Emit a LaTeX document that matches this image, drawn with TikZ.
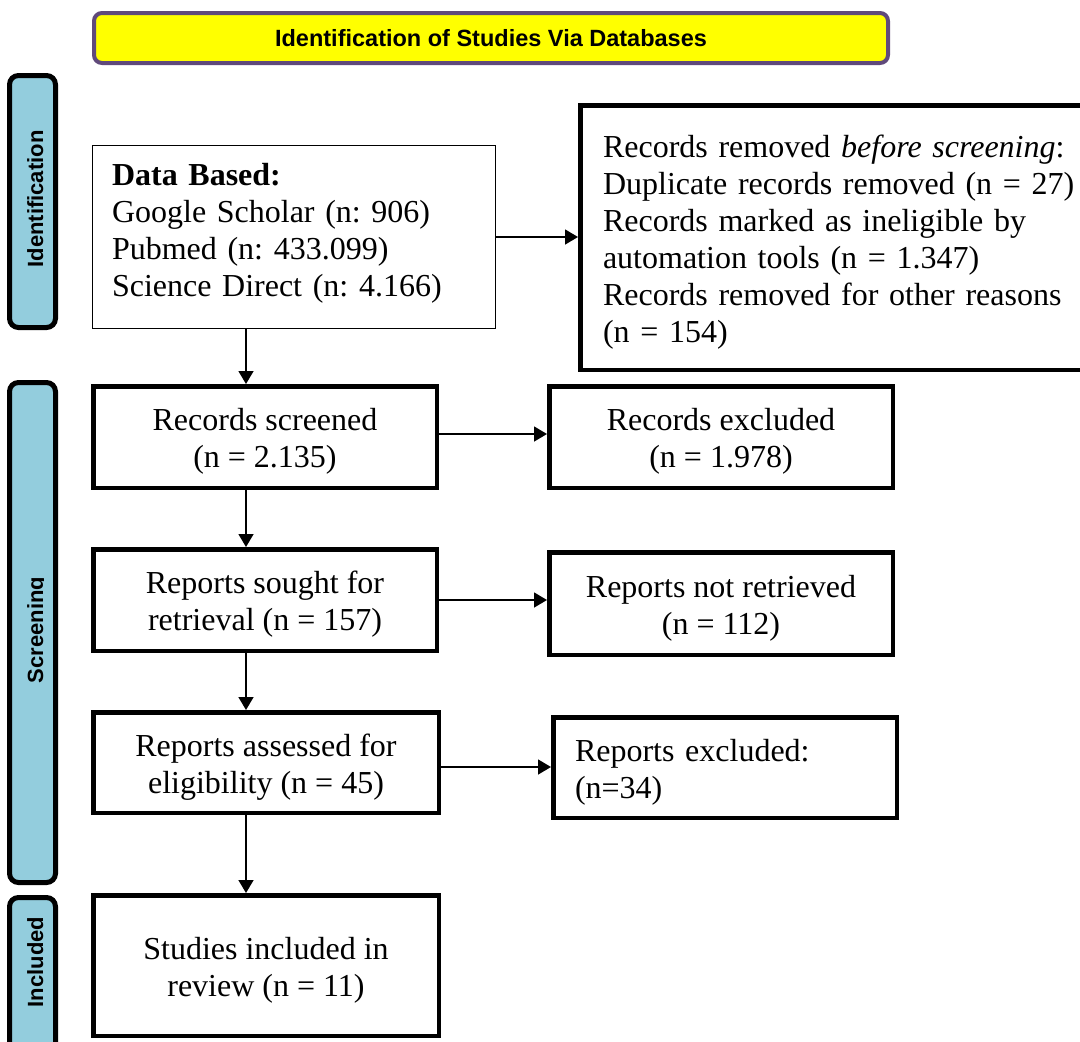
\documentclass[tikz,border=0pt]{standalone}
\usepackage{fontspec}
\setmainfont{Liberation Serif}
\setsansfont{Liberation Sans}
\usetikzlibrary{arrows.meta}
\definecolor{bannerpurple}{HTML}{604A7B}
\definecolor{sideblue}{HTML}{93CDDD}
\definecolor{bannerfill}{HTML}{FFFF00}
\newcommand\topstrut{\rule{0pt}{31pt}}
\frenchspacing
\begin{document}
\begin{tikzpicture}[x=1pt,y=-1pt,
  flowbox/.style={draw, line width=4.5pt, align=center, inner xsep=6pt, inner ysep=0pt,
                  font=\fontsize{32}{37}\selectfont\frenchspacing},
  thinbox/.style={draw, line width=1pt, align=left, inner ysep=0pt,
                  font=\fontsize{32}{37}\selectfont\frenchspacing},
  arr/.style={line width=1.5pt, -{Triangle[length=13pt,width=15pt]}},
  sidebox/.style={draw, line width=5pt, fill=sideblue, rounded corners=9pt},
  sidelabel/.style={rotate=90, anchor=base, inner sep=0pt,
                    font=\sffamily\bfseries\fontsize{22}{26}\selectfont},
  banner/.style={draw=bannerpurple, line width=4pt, fill=bannerfill, rounded corners=8pt,
                 font=\sffamily\bfseries\fontsize{23.5}{28}\selectfont}
]
\useasboundingbox (0,0) rectangle (1080,1042);
\clip (0,0) rectangle (1080,1042);

% banner
\node[banner, minimum width=794pt, minimum height=50pt] (banner) at (491,38)
  {\raisebox{-2pt}{Identification of Studies Via Databases}};

% side phase boxes
\node[sidebox, minimum width=46pt, minimum height=252pt] (sideid) at (32.5,201.5) {};
\node[sidebox, minimum width=46pt, minimum height=500pt] (sidescr) at (32.5,632.5) {};
\node[sidebox, minimum width=46pt, minimum height=170pt] (sideinc) at (32.5,982.5) {};
\begin{scope}
  \clip (0,0) rectangle (43.5,1042);
  \node[sidelabel] (labid) at (43,199) {Identification};
  \node[sidelabel] (labscr) at (43,630) {Screening};
  \node[sidelabel] (labinc) at (43,962) {Included};
\end{scope}

% identification
\node[thinbox, text width=364pt, inner xsep=19.5pt, minimum height=183pt] (data) at (294,237)
  {\textbf{Data Based:}\\Google Scholar (n: 906)\\Pubmed (n: 433.099)\\Science Direct (n: 4.166)\rule[-15pt]{0pt}{1pt}};
\node[flowbox, anchor=west, align=left, text width=490pt, inner xsep=22.75pt, minimum height=264.5pt] (removed) at (578,237.5)
  {\topstrut Records removed \textit{before screening}:\\Duplicate records removed (n = 27)\\Records marked as ineligible by\\automation tools (n = 1.347)\\Records removed for other reasons\\(n = 154)};

% screening
\node[flowbox, minimum width=343.5pt, minimum height=101.5pt] (screened) at (265,437)
  {\topstrut Records screened\\(n = 2.135)};
\node[flowbox, minimum width=343.5pt, minimum height=101.5pt] (excluded) at (721,437)
  {\topstrut Records excluded\\(n = 1.978)};
\node[flowbox, minimum width=343.5pt, minimum height=101.5pt] (sought) at (265,600)
  {\topstrut Reports sought for\\retrieval (n = 157)};
\node[flowbox, minimum width=343.5pt, minimum height=102.5pt] (notret) at (721,603.5)
  {\topstrut Reports not retrieved\\(n = 112)};
\node[flowbox, minimum width=345.5pt, minimum height=100.5pt] (assessed) at (266,762.5)
  {\topstrut Reports assessed for\\eligibility (n = 45)};
\node[flowbox, align=left, text width=300pt, inner xsep=21.75pt, minimum height=100.5pt] (repexcl) at (725,767.5)
  {\topstrut Reports excluded:\\(n=34)};

% included
\node[flowbox, minimum width=345.5pt, minimum height=140.5pt] (studies) at (266,965.5)
  {\topstrut Studies included in\\review (n = 11)};

% connectors
\coordinate (ax) at (246,0);
\draw[arr] (data.east) -- (data.east -| removed.west);
\draw[arr] (data.south -| ax) -- (screened.north -| ax);
\draw[arr] (screened.south -| ax) -- (sought.north -| ax);
\draw[arr] (sought.south -| ax) -- (assessed.north -| ax);
\draw[arr] (assessed.south -| ax) -- (studies.north -| ax);
\draw[arr] ([yshift=3pt]screened.east) -- ([yshift=3pt]screened.east -| excluded.west);
\draw[arr] (sought.east) -- (sought.east -| notret.west);
\draw[arr] ([yshift=-4.5pt]assessed.east) -- ([yshift=-4.5pt]assessed.east -| repexcl.west);
\end{tikzpicture}
\end{document}
